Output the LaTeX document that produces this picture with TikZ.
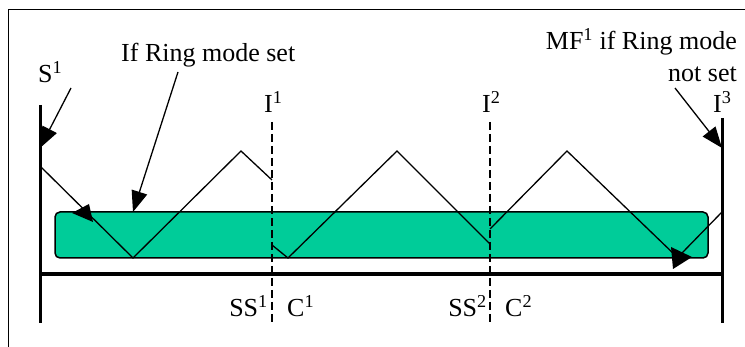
\documentclass[tikz,border=0pt]{standalone}
\usepackage{fontspec}
\setmainfont{Liberation Serif}
\usetikzlibrary{arrows.meta}
\definecolor{ringgreen}{HTML}{00CC99}
\begin{document}
\begin{tikzpicture}[x=1pt,y=-1pt,
 lbl/.style={anchor=base west,inner sep=0pt,font=\fontsize{26}{30}\selectfont},
 lblr/.style={anchor=base east,inner sep=0pt,font=\fontsize{26}{30}\selectfont},
 bar/.style={line width=3pt},
 basebar/.style={line width=4pt},
 zig/.style={line width=1.3pt},
 cut/.style={line width=2pt,dash pattern=on 8pt off 4pt},
 pointer/.style={line width=1.3pt,-{Triangle[length=21pt,width=16pt]}},
 ringbox/.style={fill=ringgreen,draw=black,line width=1.5pt,rounded corners=5pt},
 head/.style={fill=black}]
\useasboundingbox (0,0) rectangle (745,347);
% frame
\draw[line width=1pt] (8,360) -- (8,10) -- (760,10);
% green ring box
\draw[ringbox] (55,212) rectangle (708,258);
% zigzag
\draw[zig] (40,166) -- (133,258) -- (241,151) -- (272,180);
\draw[zig] (272,245) -- (288,258) -- (397,151) -- (490,244);
\draw[zig] (490,229) -- (567,151) -- (676,256);
\draw[zig] (722,212) -- (682,253);
% ring arrowheads
\fill[head] (72,213) -- (89,204) -- (93,222) -- cycle;
\fill[head] (671,247) -- (692,257) -- (673,269) -- cycle;
% dashed lines
\coordinate (i1top) at (272,122); \coordinate (i1bot) at (272,323);
\coordinate (i2top) at (490,122); \coordinate (i2bot) at (490,323);
\draw[cut] (i1top) -- (i1bot);
\draw[cut] (i2top) -- (i2bot);
% solid bars
\coordinate (ltop) at (40,105); \coordinate (lbot) at (40,323);
\coordinate (rtop) at (722,118); \coordinate (rbot) at (722,323);
\draw[bar] (ltop) -- (lbot);
\draw[bar] (rtop) -- (rbot);
\draw[basebar] (40,274) -- (722,274);
% labels
\node[lbl] (s1) at (38,83) {S\textsuperscript{1}};
\node[lbl] (ring) at (121,62) {If Ring mode set};
\node[lbl] (i1) at (264,113) {I\textsuperscript{1}};
\node[lbl] (i2) at (482,113) {I\textsuperscript{2}};
\node[lbl] (i3) at (713,113) {I\textsuperscript{3}};
\node[lblr] (mf) at (737,50) {MF\textsuperscript{1} if Ring mode};
\node[lblr] (notset) at (737,82) {not set};
\node[lblr] (ss1) at (268,317) {SS\textsuperscript{1}};
\node[lbl] (c1) at (287,317) {C\textsuperscript{1}};
\node[lblr] (ss2) at (487,317) {SS\textsuperscript{2}};
\node[lbl] (c2) at (505,317) {C\textsuperscript{2}};
% pointers
\coordinate (s1from) at (71,88); \coordinate (s1to) at (40,148);
\coordinate (ringfrom) at (178,72); \coordinate (ringto) at (133,212);
\coordinate (mffrom) at (675,88); \coordinate (mfto) at (722,148);
\draw[pointer] (s1from) -- (s1to);
\draw[pointer] (ringfrom) -- (ringto);
\draw[pointer] (mffrom) -- (mfto);
\end{tikzpicture}
\end{document}
